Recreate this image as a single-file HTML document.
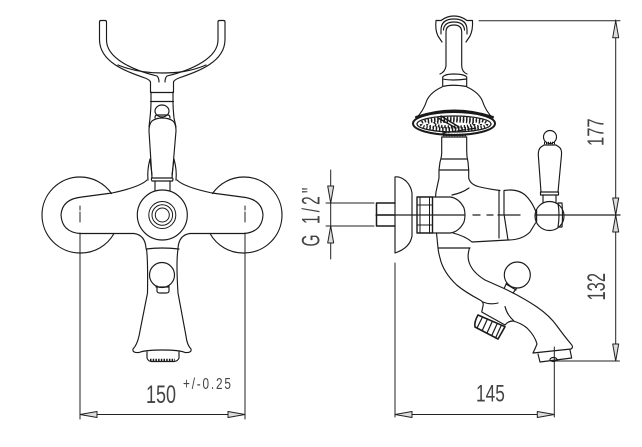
<!DOCTYPE html>
<html><head><meta charset="utf-8"><style>
html,body{margin:0;padding:0;background:#fff;width:642px;height:447px;overflow:hidden}
svg{display:block}
text{font-family:"Liberation Sans",sans-serif;fill:#444;stroke:none}
</style></head><body>
<svg width="642" height="447" viewBox="0 0 642 447" xmlns="http://www.w3.org/2000/svg">
<defs>
<g id="ah"><path d="M0,0 L17,-3 L17,3 Z" fill="#ddd" stroke="#222" stroke-width="1"/></g>
</defs>
<g fill="none" stroke="#1a1a1a" stroke-width="1.15" stroke-linecap="round" stroke-linejoin="round">
<!-- LEFT VIEW -->
<path d="M111.5,193.5 A38,38 0 0 0 80,177 A38,38 0 0 0 42,215 A38,38 0 0 0 80,253 A38,38 0 0 0 114,233.5"/>
<path d="M212.5,193.5 A38,38 0 0 1 244,177 A38,38 0 0 1 282,215 A38,38 0 0 1 244,253 A38,38 0 0 1 210,233.5"/>
<path d="M150.5,92 V82 Q150,80 145,78 C125,71 100,62 99.5,40 V22 Q99.5,20.5 101,20.5 H105 Q106.5,20.5 106.5,22 V40 C106.5,58 132,70 157,76 Q159,78 159,82"/>
<path d="M173.5,92 V82 Q174,80 179,78 C199,71 224.5,62 225,40 V22 Q225,20.5 223.5,20.5 H219.5 Q218,20.5 218,22 V40 C218,58 192,70 167,76 Q165,78 165,82"/>
<path d="M118,65 C135,72 150,73 162,73 C175,73 190,72 206,65"/>
<path d="M150.5,92.5 H173.5 M150.5,101.5 H173.5 M151,92 V102 Q151,108 150,118 L149,127 M173,92 V102 Q173,108 174,118 L176,127"/>
<ellipse cx="162" cy="111" rx="7" ry="6"/>
<path d="M155,118 Q155,115 157,115 H168 Q170,115 170,118"/>
<path d="M152,178 L149,131 Q149,124 152,121 Q156,118 162,118 Q169,118 173,121 Q176,124 176,131 L172,178"/>
<path d="M151.5,178 H172.5 Q173.5,179.5 172.5,181 H152 Q151,179.5 151.5,178 Z"/>
<path d="M155,181 V191 M170,181 V191"/>
<path d="M148,180 Q147,170 150,159 M152,175 L150,159 M176,180 Q177,170 174,159 M172,175 L174,159"/>
<path d="M147,180 Q140,187 112,193 L82,197 Q62,199 61,215 Q62,232 80,233.5 H134 Q145,235 146,248"/>
<path d="M177,180 Q184,187 212,193 L242,197 Q262,199 263,215 Q262,232 244,233.5 H190 Q179,235 178,248"/>
<circle cx="162.3" cy="215" r="25" fill="#fff"/>
<circle cx="162.3" cy="215" r="13.5" stroke-width="1"/>
<circle cx="162.3" cy="215" r="10.3" stroke-width="1"/>
<circle cx="162.3" cy="215" r="7" stroke-width="1"/>
<path d="M146,249 Q162,247 179,249"/>
<path d="M146.5,249 Q148,260 147.5,293 L139,336 Q137,345 133,349 Q132,353 139,352.5 Q145,350 162,350 Q180,350 185,352.5 Q192,353 191,349 Q187,345 186,336 L178,293 Q176,262 178,249"/>
<circle cx="162" cy="275" r="12.5" fill="#fff"/>
<path d="M157,286 V291 Q157,293 160,293 H166 Q169,293 169,291 V286 M156,287 H169"/>
<path d="M147,352 V358 Q148,361 151,361.5 H174 Q178,361 179,358 V352"/>
<path d="M150,360 H175" stroke-width="2.6" stroke-dasharray="1.5 1.2" stroke-linecap="butt"/>
<g stroke="#222" stroke-width="1">
<path d="M80,206 V210 M80,212 V222 M80,233 V419 M245,206 V210 M245,212 V222 M245,233 V419"/>
<path d="M80,414.5 H245"/>
</g>
<use href="#ah" x="80" y="414.5"/>
<use href="#ah" transform="translate(245,414.5) rotate(180)"/>

<g stroke="#222" stroke-width="1">
<path d="M330.7,170 V259 M326,203 H374 M326,226 H374"/>
</g>
<use href="#ah" transform="translate(330.7,203) rotate(-90)"/>
<use href="#ah" transform="translate(330.7,226) rotate(90)"/>

<!-- RIGHT VIEW -->
<path d="M440,74 Q445,72 446,66 V32 Q446,25 454,25 Q461.7,25 461.7,32 V66 Q462,72 467,74"/>
<path d="M441,34 V30 Q441,19 454,19 Q467,19 467,30 V34"/>
<path d="M443.5,30 Q444,22 454,22 Q464,22 464.5,30"/>
<path d="M436,20.5 H441 Q447,16 454,16 Q461,16 467,20.5 H472.5 Q473,30 470,36 L466,42 M436,20.5 Q435,30 438,36 L442,42"/>
<path d="M442.7,86 V77 Q445,74 454,74 Q464,74 466.7,77 V86 M442.7,79 Q452,81 466.7,79"/>
<path d="M442.7,86.5 Q452,84 466.7,86.5 M442,87 Q431,92 427,100 Q423,112 416,118 M467,87 Q478,92 482,100 Q486,112 493,118"/>
<ellipse cx="454" cy="123.5" rx="41" ry="11.5" fill="#fff" stroke-width="2"/>
<path d="M416,117 Q454,104 493,117" stroke-width="2"/>
<ellipse cx="454" cy="124" rx="37" ry="8" stroke-width="1.3"/>
<ellipse cx="454" cy="124" rx="33" ry="6" stroke-width="2.8" stroke-dasharray="1.4 1.8" stroke-linecap="butt"/>
<ellipse cx="454" cy="124" rx="27" ry="4.5" stroke-width="2.4" stroke-dasharray="1.4 1.8" stroke-linecap="butt"/>
<ellipse cx="454" cy="124" rx="20" ry="3" stroke-width="3" stroke-dasharray="1.4 1.8" stroke-linecap="butt"/>
<path d="M438,118 L456,128 M441,116 L459,127" stroke-width="1.4"/>
<path d="M443,133 L477,128" stroke-width="1.4" stroke-dasharray="3 2"/>
<path d="M443,135 H466" stroke-width="2.4" stroke-dasharray="1.5 1.2" stroke-linecap="butt"/>
<path d="M441.7,137 H466.7 M441.7,137 V150 Q442,156 440,162 L439,170 V178 L436,192 L435.5,197 M466.7,137 V150 Q466.5,156 468,162 L468.7,170 V178 Q470,184 478,186.5 Q488,189 500,190.5"/>
<path d="M441.5,159 H467 M439,170 H468.7"/>
<path d="M452,195 Q462,193 469,188"/>
<path d="M499,190.5 V238 M504,190.5 V214 L508,240 M504,190.5 Q520,188 528,198 Q533,204 536,212"/>
<path d="M508,240 Q522,240 530,232 L535.5,223"/>
<path d="M395,177 Q400,176 406,181 Q411,186 412,193 V236 Q410,248 395,253 V177 Z"/>
<path d="M376.5,203 H395 M376.5,226 H395 M376.5,203 V226 M395,215 H376.5" stroke-width="1.5"/>
<path d="M417,197 H432.5 V233 H417 Z" stroke-width="1.4"/>
<path d="M420,197 V233 M429.5,197 V233" stroke-width="1"/>
<path d="M417,205 H432 M417,225 H432" stroke-width="1"/>
<path d="M432.5,197 H450 Q459,198 464,208 Q466,215 464,222 Q459,232 450,233 H432.5"/>
<circle cx="550" cy="137" r="6.5" fill="#fff"/>
<path d="M544,143 H556" stroke-width="2.5" stroke-dasharray="1 1" stroke-linecap="butt"/>
<path d="M541,192 L538.3,155 Q538.2,149 541,147 L544,145 H556 L559,147 Q562,149 561.5,155 L558,192"/>
<path d="M540.5,192 H558.5 V195 H540.5 Z"/>
<path d="M543,195 V203 M556,195 V203 M543,203 H556"/>
<circle cx="549.5" cy="216" r="14.5" fill="#fff"/>
<path d="M558,203 H562 Q563,215 562,227 H558 Q560,215 558,203 Z"/>
<path d="M536.5,210 V222" stroke-width="1.4"/>
<path d="M436.5,233 L438,248 H470 M453,233 Q465,236 472,242 L508,240"/>
<path d="M438,248 Q438.5,253 440,258 Q443,272 456.7,285 Q465,292 480,300 Q484,302 483,306 L481.7,312 L505,325 Q508,321 513,321 Q521,323 527,328 Q535,336 537,344 Q535,349 533,353"/>
<path d="M469.5,248 Q467,256 469,262 Q472,272 485,280 L503,288 Q522,297 537,307 Q550,316 557,326 Q565,337 571,344 Q574,347 571,349 L533,353"/>
<path d="M483,302 Q490,305 498,303 M505,306.5 Q507,315 514,321"/>
<path d="M538,354 L540,362 L571.7,358 L570,350"/>
<ellipse cx="553.5" cy="359.5" rx="3.5" ry="2"/>
<path d="M478,315 L505,326.7 L498,339 L475,327 Q474,322 478,315 Z" stroke-width="1.6"/>
<path d="M482,318 L477,328 M487,320 L482,331 M492,322 L487,333 M497,324 L492,335 M501,326 L496,337" stroke-width="1.2"/>
<path d="M504.3,288 L509,278 M513,293 L519,285 M508,280 L519,287 M506,284 L516,290"/>
<circle cx="517.3" cy="275" r="13" fill="#fff"/>
<g stroke="#222" stroke-width="1">
<path d="M479,20.7 H620 M615.7,20 V361 M556,361 H619.5" />
<path d="M565,215 H620 M535,215 H565 M376,215 H465 M473,215 H480 M487,215 H493 M498,215 H520" stroke-width="1.3"/>
<path d="M395,263 V417 M554.3,347 V417 M395,414.5 H554.3"/>
</g>
<use href="#ah" transform="translate(615.7,20.7) rotate(90)"/>
<use href="#ah" transform="translate(615.7,215) rotate(-90)"/>
<use href="#ah" transform="translate(615.7,215) rotate(90)"/>
<use href="#ah" transform="translate(615.7,361) rotate(-90)"/>
<use href="#ah" x="395" y="414.5"/>
<use href="#ah" transform="translate(554.3,414.5) rotate(180)"/>
</g>
<text transform="translate(146,403) scale(.72,1)" font-size="25">150</text>
<text transform="translate(183,389) scale(.76,1)" font-size="15.5" letter-spacing="2.4">+/-0.25</text>
<text transform="translate(476,401.5) scale(.72,1)" font-size="24">145</text>
<text transform="translate(603.5,146) rotate(-90) scale(.72,1)" font-size="23">177</text>
<text transform="translate(605,300.5) rotate(-90) scale(.66,1)" font-size="25">132</text>
<text transform="translate(319.3,246.5) rotate(-90) scale(.62,1)" font-size="25" letter-spacing="5">G 1/2"</text>
</svg>
</body></html>
